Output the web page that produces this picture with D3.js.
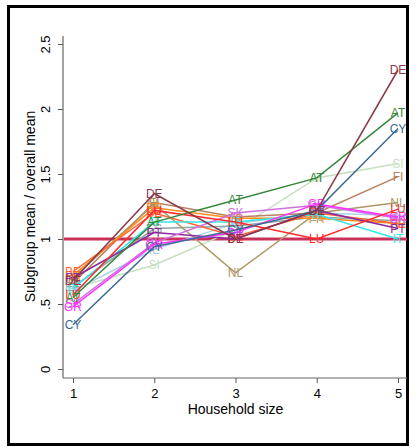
<!DOCTYPE html>
<html>
<head>
<meta charset="utf-8">
<script src="https://cdn.jsdelivr.net/npm/d3@7"></script>
<style>
  body { margin: 0; background: #fff; }
  svg text { font-family: "Liberation Sans", Arial, sans-serif; }
</style>
</head>
<body>
<svg id="mysvg" width="416" height="447"></svg>
<script>
// household sizes and y ticks
var sizes = [1, 2, 3, 4, 5];
var yTicks = [0, 0.5, 1, 1.5, 2, 2.5];
var yTickLabels = ["0", ".5", "1", "1.5", "2", "2.5"];

// subgroup mean / overall mean, one array per country
var countries = ["SI", "IE", "ES", "FI", "NL", "FR", "BE", "IT", "PT", "SK", "GR", "LU", "CY", "AT", "DE"];
var SI = [0.62, 0.80, 1.07, 1.47, 1.58];
var IE = [0.60, 0.92, 1.12, 1.20, 1.18];
var ES = [0.63, 1.08, 1.10, 1.17, 1.14];
var FI = [0.66, 1.28, 1.17, 1.20, 1.48];
var NL = [0.70, 1.27, 0.74, 1.20, 1.28];
var FR = [0.72, 1.24, 1.16, 1.16, 1.12];
var BE = [0.75, 1.20, 1.02, 1.20, 1.12];
var IT = [0.62, 1.13, 1.13, 1.19, 1.00];
var PT = [0.70, 1.05, 1.00, 1.22, 1.08];
var SK = [0.50, 0.97, 1.20, 1.26, 1.16];
var GR = [0.48, 0.96, 1.05, 1.27, 1.17];
var LU = [0.57, 1.22, 1.13, 1.00, 1.23];
var CY = [0.34, 0.94, 1.07, 1.22, 1.85];
var AT = [0.55, 1.13, 1.30, 1.47, 1.97];
var DE = [0.68, 1.35, 1.00, 1.22, 2.30];
var values = {SI: SI, IE: IE, ES: ES, FI: FI, NL: NL, FR: FR, BE: BE, IT: IT,
              PT: PT, SK: SK, GR: GR, LU: LU, CY: CY, AT: AT, DE: DE};

var colors = {SI: "#c6dfc0", IE: "#a9d2ea", ES: "#8fa8a4", FI: "#b8805e", NL: "#ad9765",
              FR: "#ff8c1a", BE: "#ff6633", IT: "#33e8e8", PT: "#8b2a9c", SK: "#cf6fe0",
              GR: "#ff33ff", LU: "#ff2a2a", CY: "#3d6994", AT: "#35883a", DE: "#8c3848"};

var svg = d3.select("#mysvg");

var x = d3.scaleLinear().domain([1, 5]).range([73, 398]);
var y = d3.scaleLinear().domain([0, 2.5]).range([369, 44]);

// outer frame
svg.append("rect")
  .attr("x", 8.5).attr("y", 6.5)
  .attr("width", 399).attr("height", 438)
  .attr("fill", "none").attr("stroke", "#000").attr("stroke-width", 3);

// y axis
var yAxis = svg.append("g")
  .attr("transform", "translate(63,0)")
  .call(d3.axisLeft(y).tickValues(yTicks).tickSize(5).tickSizeOuter(0)
    .tickFormat(function(d, i) { return yTickLabels[i]; }));
yAxis.select(".domain").remove();
yAxis.selectAll(".tick line").attr("stroke", "#555");
yAxis.selectAll(".tick text")
  .attr("font-size", 13).attr("fill", "#000")
  .attr("transform", "rotate(-90)")
  .attr("x", 0).attr("y", -17).attr("dy", "0.32em")
  .attr("text-anchor", "middle");

// x axis
var xAxis = svg.append("g")
  .attr("transform", "translate(0,378)")
  .call(d3.axisBottom(x).tickValues(sizes).tickSize(5).tickSizeOuter(0)
    .tickFormat(d3.format("d")));
xAxis.select(".domain").remove();
xAxis.selectAll(".tick line").attr("stroke", "#555");
xAxis.selectAll(".tick text").attr("font-size", 13).attr("fill", "#000").attr("dy", "0.9em");

// axis lines
svg.append("line").attr("x1", 63).attr("x2", 63).attr("y1", 36).attr("y2", 378)
  .attr("stroke", "#666").attr("stroke-width", 1.2);
svg.append("line").attr("x1", 63).attr("x2", 407).attr("y1", 378).attr("y2", 378)
  .attr("stroke", "#666").attr("stroke-width", 1.2);

// axis titles
svg.append("text")
  .attr("transform", "translate(35," + y(1.25) + ") rotate(-90)")
  .attr("text-anchor", "middle").attr("font-size", 14).attr("fill", "#000")
  .text("Subgroup mean / overall mean");
svg.append("text")
  .attr("x", x(3)).attr("y", 414)
  .attr("text-anchor", "middle").attr("font-size", 14).attr("fill", "#000")
  .text("Household size");

// reference line at 1
svg.append("line")
  .attr("x1", 64).attr("x2", 407).attr("y1", y(1)).attr("y2", y(1))
  .attr("stroke", "#c8325a").attr("stroke-width", 3);

var line = d3.line()
  .x(function(d, i) { return x(sizes[i]); })
  .y(function(d) { return y(d); });

var series = svg.selectAll("g.country")
  .data(countries)
  .enter()
  .append("g")
  .attr("class", "country");

series.append("path")
  .attr("d", function(c) { return line(values[c]); })
  .attr("fill", "none")
  .attr("stroke", function(c) { return colors[c]; })
  .attr("stroke-width", 1.5);

series.selectAll("text")
  .data(function(c) { return values[c].map(function(v, i) { return {c: c, v: v, i: i}; }); })
  .enter()
  .append("text")
  .attr("x", function(d) { return x(sizes[d.i]); })
  .attr("y", function(d) { return y(d.v); })
  .attr("dy", "0.36em")
  .attr("text-anchor", "middle")
  .attr("font-size", 12)
  .attr("fill", function(d) { return colors[d.c]; })
  .text(function(d) { return d.c; });
</script>
</body>
</html>
